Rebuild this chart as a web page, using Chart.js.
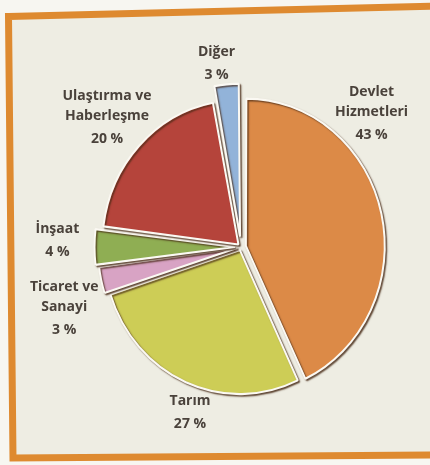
<!DOCTYPE html>
<html>
<head>
<meta charset="utf-8">
<script src="https://cdn.jsdelivr.net/npm/chart.js@4.4.1/dist/chart.umd.min.js"></script>
<style>
  html, body { margin: 0; padding: 0; background: #f7f6f1; }
  #wrap { position: relative; width: 430px; height: 465px; }
</style>
</head>
<body>
<div id="wrap"><canvas id="pie"></canvas></div>
<script>
// sectors, clockwise from 12 o'clock
const sectors = ['Devlet\nHizmetleri', 'Tarım', 'Ticaret ve\nSanayi', 'İnşaat', 'Ulaştırma ve\nHaberleşme', 'Diğer'];
const shares = [43, 27, 3, 4, 20, 3];
const sliceColors = ['#dc8a47', '#cdcd56', '#d8a3c4', '#8fae53', '#b5443b', '#92b3d9'];
// how far each slice is pulled out of the pie
const pullOut = [20, 12, 16, 24, 14, 40];
// label block centers, in pie radii from the pie center
const labelSpots = [[0.96, -0.98], [-0.375, 1.22], [-1.30, 0.45], [-1.35, -0.045], [-0.985, -0.955], [-0.18, -1.35]];

const framePlugin = {
    id: 'frame',
    beforeDraw(chart) {
        const ctx = chart.ctx;
        ctx.save();
        ctx.fillStyle = '#f7f6f1';
        ctx.fillRect(0, 0, chart.width, chart.height);
        ctx.beginPath();
        ctx.moveTo(8.5, 16.5);
        ctx.lineTo(440, 6);
        ctx.lineTo(440, 455);
        ctx.lineTo(13, 458);
        ctx.closePath();
        ctx.fillStyle = '#eeede3';
        ctx.fill();
        ctx.lineWidth = 7;
        ctx.strokeStyle = '#de8a30';
        ctx.stroke();
        ctx.restore();
    }
};

// slightly tall pie with a soft dark edge under the slices
const shadowPlugin = {
    id: 'sliceShadow',
    beforeDatasetsDraw(chart) {
        const ctx = chart.ctx;
        const arc = chart.getDatasetMeta(0).data[0];
        ctx.save();
        ctx.translate(0, arc.y);
        ctx.scale(1, 1.06);
        ctx.translate(0, -arc.y);
        ctx.shadowColor = 'rgba(70, 40, 20, 0.75)';
        ctx.shadowOffsetX = 1.5;
        ctx.shadowOffsetY = 1.5;
        ctx.shadowBlur = 1.5;
    },
    afterDatasetsDraw(chart) {
        chart.ctx.restore();
    }
};

const labelPlugin = {
    id: 'sliceLabels',
    afterDraw(chart) {
        const ctx = chart.ctx;
        const arcs = chart.getDatasetMeta(0).data;
        ctx.save();
        ctx.fillStyle = '#4a423b';
        ctx.font = 'bold 14px "Open Sans"';
        ctx.textAlign = 'center';
        ctx.textBaseline = 'middle';
        arcs.forEach((arc, i) => {
            const r = arc.outerRadius;
            const cx = arc.x + labelSpots[i][0] * r;
            const cy = arc.y + labelSpots[i][1] * r;
            const lines = sectors[i].split('\n');
            const h = (lines.length - 1) * 20 + 23;
            let y = cy - h / 2;
            lines.forEach(line => {
                ctx.fillText(line, cx, y);
                y += 20;
            });
            ctx.fillText(shares[i] + ' %', cx, y + 3);
        });
        ctx.restore();
    }
};

const chart = new Chart(document.getElementById('pie'), {
    type: 'pie',
    data: {
        labels: sectors,
        datasets: [{
            data: shares,
            backgroundColor: sliceColors,
            offset: pullOut,
            borderColor: '#fbf9f3',
            borderWidth: 2
        }]
    },
    options: {
        responsive: true,
        maintainAspectRatio: false,
        animation: false,
        radius: 136,
        layout: { padding: { left: 52, right: 0, top: 29, bottom: 0 } },
        plugins: {
            legend: { display: false },
            tooltip: { enabled: false }
        }
    },
    plugins: [framePlugin, shadowPlugin, labelPlugin]
});
</script>
</body>
</html>
